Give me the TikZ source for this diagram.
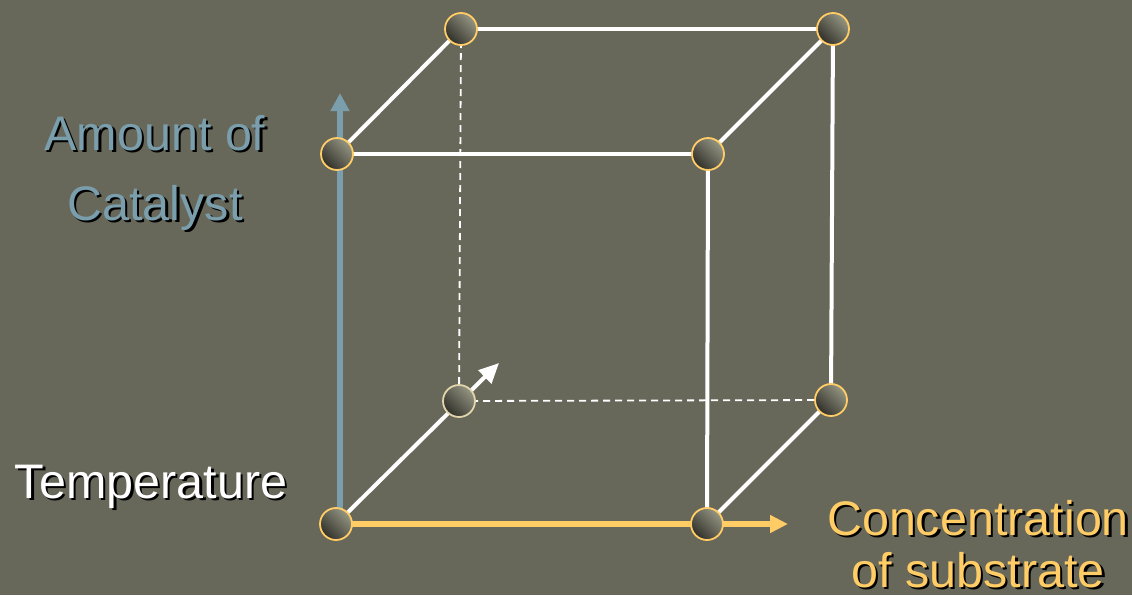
\documentclass[tikz,border=0pt]{standalone}
\usepackage{fontspec}
\setmainfont{Liberation Sans}
\usetikzlibrary{arrows.meta}
\definecolor{bg}{RGB}{103,104,90}
\definecolor{axisblue}{RGB}{123,158,173}
\definecolor{axisyellow}{RGB}{255,204,102}
\definecolor{ballhi}{RGB}{150,150,132}
\definecolor{balllo}{RGB}{48,48,42}
\definecolor{beige}{RGB}{225,212,170}
% text with a black drop shadow
\newcommand{\shtxt}[2]{\makebox[0pt][l]{\hspace{2.5pt}\raisebox{-2.5pt}{\color{black}#2}}\textcolor{#1}{#2}}
\tikzset{
  ball/.style={circle, minimum size=32pt, inner sep=0pt, draw=axisyellow, line width=1.8pt,
    shade, top color=ballhi, bottom color=balllo, shading angle=-45},
  edge/.style={white, line width=4pt},
  hidden/.style={white, line width=1.8pt, dash pattern=on 7pt off 5pt},
  lbl/.style={align=center, inner sep=0pt, anchor=base},
}
\begin{document}
\begin{tikzpicture}[x=1pt,y=-1pt]
\fill[bg] (0,0) rectangle (1132,595);
\useasboundingbox (0,0) rectangle (1132,595);
% corner positions
\coordinate (pFBL) at (336,524);
\coordinate (pFBR) at (707,524);
\coordinate (pFTL) at (337,154);
\coordinate (pFTR) at (708,154);
\coordinate (pBTL) at (461,29);
\coordinate (pBTR) at (833,29);
\coordinate (pBBL) at (459,401);
\coordinate (pBBR) at (831,400);
\coordinate (baseY) at (340,524);
\coordinate (tipY) at (340,93);
\coordinate (tipX) at (788,524);
\coordinate (tipZ) at (499,363);
% hidden edges
\draw[hidden] (pBTL) -- (pBBL);
\draw[hidden] (pBBL) -- (pBBR);
% solid edges
\draw[edge] (pFTL) -- (pFTR);
\draw[edge] (pFTL) -- (pBTL);
\draw[edge] (pBTL) -- (pBTR);
\draw[edge] (pBTR) -- (pFTR);
\draw[edge] (pBTR) -- (pBBR);
\draw[edge] (pFTR) -- (pFBR);
\draw[edge] (pFBR) -- (pBBR);
% axes
\draw[axisblue, line width=6pt, -{Triangle[length=18pt,width=18pt]}] (baseY) -- (tipY);
\draw[axisyellow, line width=6pt, -{Triangle[length=18pt,width=17pt]}] (pFBL) -- (tipX);
\draw[white, line width=4pt, -{Triangle[length=20pt,width=18pt]}] (pFBL) -- (tipZ);
% corner balls
\node[ball] (FBL) at (pFBL) {};
\node[ball] (FBR) at (pFBR) {};
\node[ball] (FTL) at (pFTL) {};
\node[ball] (FTR) at (pFTR) {};
\node[ball] (BTL) at (pBTL) {};
\node[ball] (BTR) at (pBTR) {};
\node[ball, draw=beige] (BBL) at (pBBL) {};
\node[ball] (BBR) at (pBBR) {};
% labels
\node[lbl, font=\fontsize{48.5}{70}\selectfont] (cat) at (155,220)
  {\shtxt{axisblue}{Amount of}\\\shtxt{axisblue}{Catalyst}};
\node[lbl, font=\fontsize{48.5}{70}\selectfont] (temp) at (151,498)
  {\shtxt{white}{Temperature}};
\node[lbl, font=\fontsize{48.5}{52}\selectfont] (conc) at (978,587)
  {\shtxt{axisyellow}{Concentration}\\\shtxt{axisyellow}{of substrate}};
\end{tikzpicture}
\end{document}
